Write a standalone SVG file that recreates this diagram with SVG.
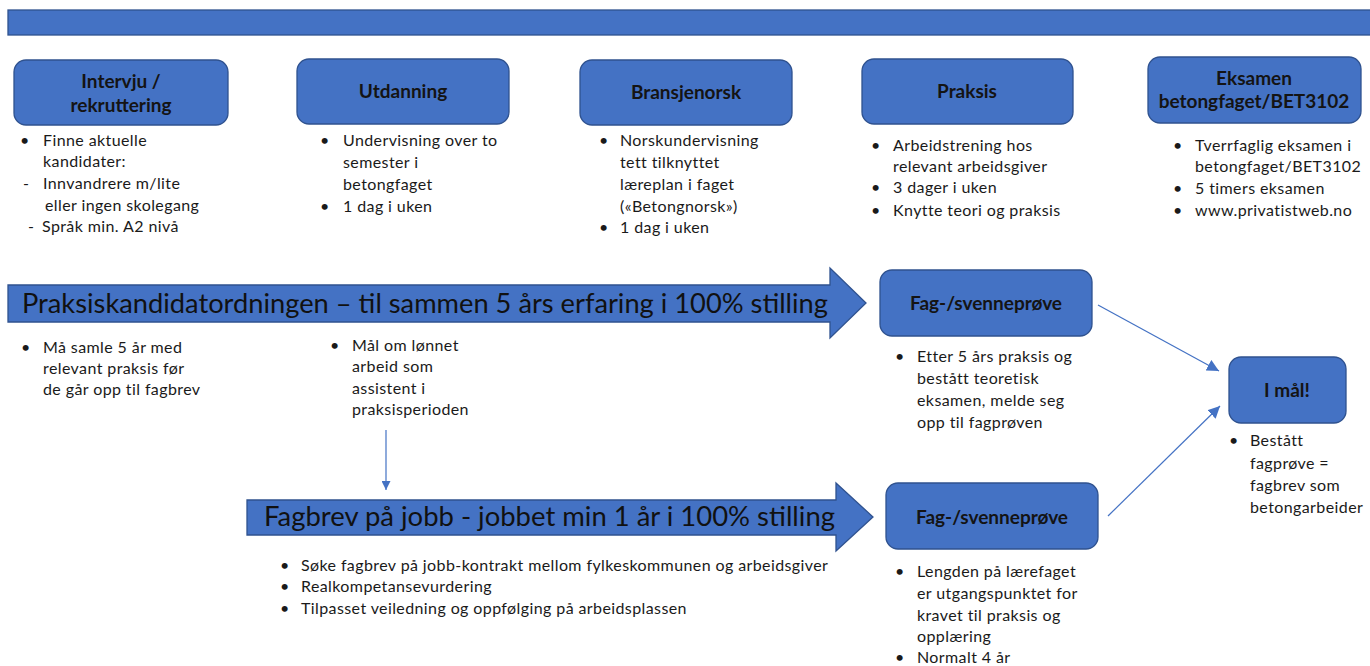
<svg xmlns="http://www.w3.org/2000/svg" width="1370" height="666" viewBox="0 0 1370 666">
<defs>
<style>
.box{fill:#4472C4;stroke:#2F528F;stroke-width:1.3}
.h{font-family:Lato,"Liberation Sans",sans-serif;font-weight:bold;font-size:19px;fill:#141414;text-anchor:middle}
.t{font-family:Lato,"Liberation Sans",sans-serif;font-size:16px;letter-spacing:0.4px;fill:#1a1a1a}
.big{font-family:Lato,"Liberation Sans",sans-serif;font-size:27px;fill:#111}
.con{stroke:#4472C4;stroke-width:1.2;fill:none}
</style>
<marker id="ah" viewBox="0 0 10 10" refX="10" refY="5" markerWidth="9" markerHeight="9" markerUnits="userSpaceOnUse" orient="auto"><path d="M0,0 L10,5 L0,10 z" fill="#4472C4"/></marker>
<marker id="ah2" viewBox="0 0 10 10" refX="10" refY="5" markerWidth="12" markerHeight="12" markerUnits="userSpaceOnUse" orient="auto"><path d="M0,0 L10,5 L0,10 z" fill="#4472C4"/></marker>
</defs>
<rect width="1370" height="666" fill="#fff"/>
<rect id="topbar" x="8" y="10" width="1370" height="25" class="box"/>

<g id="intervju">
<rect x="14" y="60" width="214" height="65" rx="12" class="box"/>
<text class="h" x="121" y="88">Intervju /</text>
<text class="h" x="121" y="112">rekruttering</text>
<text class="t" x="20" y="146">•</text><text class="t" x="43" y="146">Finne aktuelle</text>
<text class="t" x="43" y="167">kandidater:</text>
<text class="t" x="23" y="189">-</text><text class="t" x="43" y="189">Innvandrere m/lite</text>
<text class="t" x="45" y="211">eller ingen skolegang</text>
<text class="t" x="28" y="232">-</text><text class="t" x="42" y="232">Språk min. A2 nivå</text>
</g>

<g id="utdanning">
<rect x="297" y="59" width="212" height="65" rx="12" class="box"/>
<text class="h" x="403" y="98">Utdanning</text>
<text class="t" x="320" y="146">•</text><text class="t" x="343" y="146">Undervisning over to</text>
<text class="t" x="343" y="168">semester i</text>
<text class="t" x="343" y="190">betongfaget</text>
<text class="t" x="320" y="212">•</text><text class="t" x="343" y="212">1 dag i uken</text>
</g>

<g id="bransjenorsk">
<rect x="580" y="60" width="212" height="65" rx="12" class="box"/>
<text class="h" x="686" y="99">Bransjenorsk</text>
<text class="t" x="599" y="146">•</text><text class="t" x="620" y="146">Norskundervisning</text>
<text class="t" x="620" y="168">tett tilknyttet</text>
<text class="t" x="620" y="190">læreplan i faget</text>
<text class="t" x="620" y="212">(«Betongnorsk»)</text>
<text class="t" x="599" y="233">•</text><text class="t" x="620" y="233">1 dag i uken</text>
</g>

<g id="praksis">
<rect x="862" y="59" width="211" height="65" rx="12" class="box"/>
<text class="h" x="967" y="98">Praksis</text>
<text class="t" x="871" y="151">•</text><text class="t" x="893" y="151">Arbeidstrening hos</text>
<text class="t" x="893" y="172">relevant arbeidsgiver</text>
<text class="t" x="871" y="193">•</text><text class="t" x="893" y="193">3 dager i uken</text>
<text class="t" x="871" y="216">•</text><text class="t" x="893" y="216">Knytte teori og praksis</text>
</g>

<g id="eksamen">
<rect x="1148" y="57" width="213" height="66" rx="12" class="box"/>
<text class="h" x="1254" y="85">Eksamen</text>
<text class="h" x="1254" y="108">betongfaget/BET3102</text>
<text class="t" x="1173" y="151">•</text><text class="t" x="1195" y="151">Tverrfaglig eksamen i</text>
<text class="t" x="1195" y="172">betongfaget/BET3102</text>
<text class="t" x="1173" y="194">•</text><text class="t" x="1195" y="194">5 timers eksamen</text>
<text class="t" x="1173" y="216">•</text><text class="t" x="1195" y="216">www.privatistweb.no</text>
</g>

<g id="praksiskandidat">
<path d="M8,285 L830,285 L830,268 L866,303 L830,338 L830,322 L8,322 Z" class="box"/>
<text class="big" x="22" y="313" textLength="806" lengthAdjust="spacingAndGlyphs">Praksiskandidatordningen – til sammen 5 års erfaring i 100% stilling</text>
<text class="t" x="21" y="353">•</text><text class="t" x="43" y="353">Må samle 5 år med</text>
<text class="t" x="43" y="374">relevant praksis før</text>
<text class="t" x="43" y="395">de går opp til fagbrev</text>
<text class="t" x="330" y="351">•</text><text class="t" x="352" y="351">Mål om lønnet</text>
<text class="t" x="352" y="372">arbeid som</text>
<text class="t" x="352" y="394">assistent i</text>
<text class="t" x="352" y="415">praksisperioden</text>
</g>

<g id="fag1">
<rect x="880" y="270" width="212" height="66" rx="12" class="box"/>
<text class="h" x="986" y="310">Fag-/svenneprøve</text>
<text class="t" x="895" y="362">•</text><text class="t" x="917" y="362">Etter 5 års praksis og</text>
<text class="t" x="917" y="384">bestått teoretisk</text>
<text class="t" x="917" y="406">eksamen, melde seg</text>
<text class="t" x="917" y="428">opp til fagprøven</text>
</g>

<g id="imaal">
<rect x="1229" y="357" width="117" height="66" rx="12" class="box"/>
<text class="h" x="1287" y="397">I mål!</text>
<text class="t" x="1229" y="446">•</text><text class="t" x="1250" y="446">Bestått</text>
<text class="t" x="1250" y="469">fagprøve =</text>
<text class="t" x="1250" y="491">fagbrev som</text>
<text class="t" x="1250" y="513">betongarbeider</text>
</g>

<g id="fagbrevjobb">
<path d="M247,500 L836,500 L836,483 L873,517 L836,551 L836,535 L247,535 Z" class="box"/>
<text class="big" x="264" y="526" font-size="26" textLength="571" lengthAdjust="spacingAndGlyphs">Fagbrev på jobb - jobbet min 1 år i 100% stilling</text>
<text class="t" x="280" y="571">•</text><text class="t" x="301" y="571">Søke fagbrev på jobb-kontrakt mellom fylkeskommunen og arbeidsgiver</text>
<text class="t" x="280" y="592">•</text><text class="t" x="301" y="592">Realkompetansevurdering</text>
<text class="t" x="280" y="614">•</text><text class="t" x="301" y="614">Tilpasset veiledning og oppfølging på arbeidsplassen</text>
</g>

<g id="fag2">
<rect x="886" y="483" width="212" height="66" rx="12" class="box"/>
<text class="h" x="992" y="524">Fag-/svenneprøve</text>
<text class="t" x="895" y="577">•</text><text class="t" x="917" y="577">Lengden på lærefaget</text>
<text class="t" x="917" y="599">er utgangspunktet for</text>
<text class="t" x="917" y="621">kravet til praksis og</text>
<text class="t" x="917" y="642">opplæring</text>
<text class="t" x="895" y="663">•</text><text class="t" x="917" y="663">Normalt 4 år</text>
</g>

<g id="connectors">
<line x1="386" y1="430" x2="386" y2="490" class="con" marker-end="url(#ah)"/>
<line x1="1098" y1="305" x2="1219" y2="371" class="con" marker-end="url(#ah2)"/>
<line x1="1108" y1="516" x2="1220" y2="406" class="con" stroke-width="2" marker-end="url(#ah2)"/>
</g>
</svg>
